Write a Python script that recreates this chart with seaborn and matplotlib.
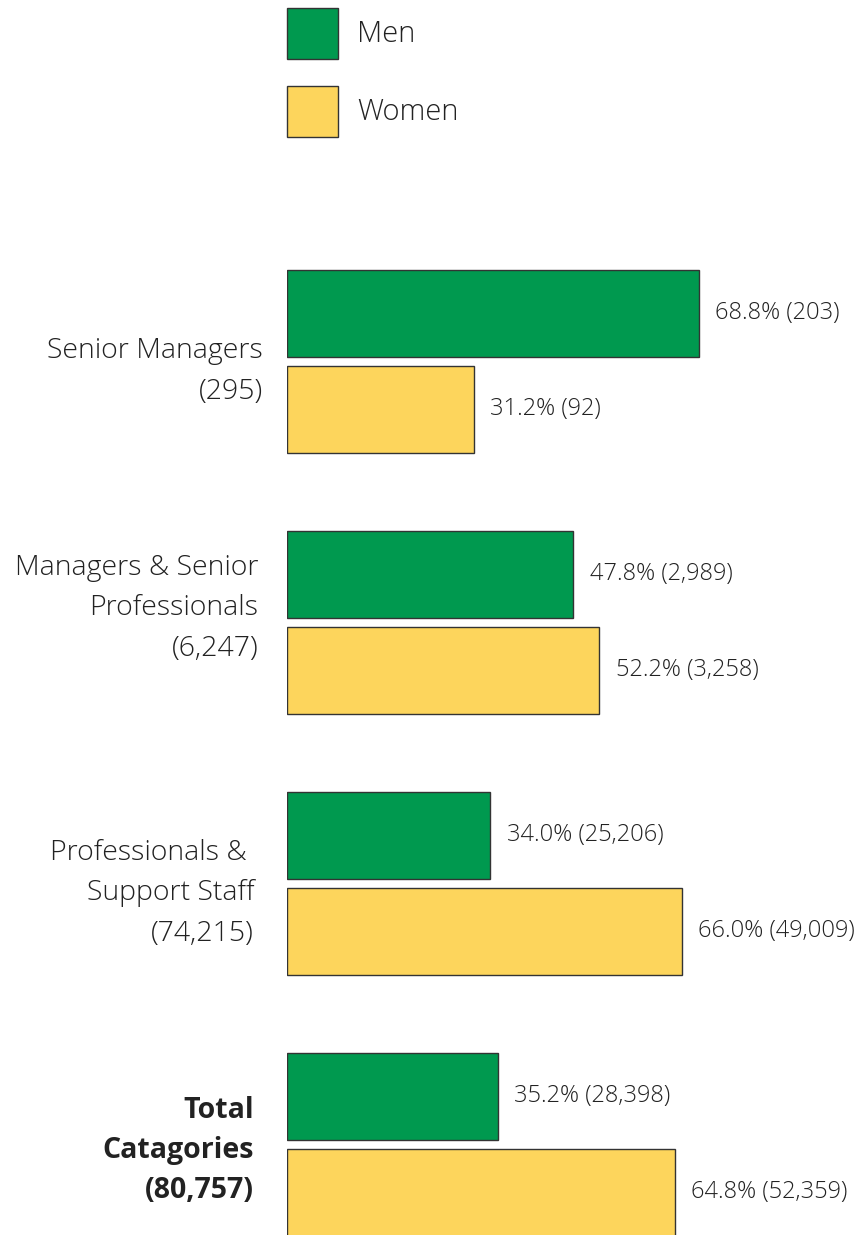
import matplotlib
matplotlib.use("Agg")
import matplotlib.pyplot as plt
from matplotlib.patches import Patch
from matplotlib.transforms import ScaledTranslation
import seaborn as sns
import pandas as pd

# data
categories = ["Senior Managers\n(295)",
              "Managers & Senior\nProfessionals\n(6,247)",
              "Professionals & \nSupport Staff\n(74,215)",
              "Total\nCatagories\n(80,757)"]
men_pct = [68.8, 47.8, 34.0, 35.2]
women_pct = [31.2, 52.2, 66.0, 64.8]
men_n = [203, 2989, 25206, 28398]
women_n = [92, 3258, 49009, 52359]
series = ["Men", "Women"]
colors = {"Men": "#00994F", "Women": "#FDD55C"}

df = pd.concat([
    pd.DataFrame({"group": categories, "pct": men_pct, "sex": "Men"}),
    pd.DataFrame({"group": categories, "pct": women_pct, "sex": "Women"}),
])

sns.set_style("white")
plt.rcParams['font.family'] = ['Open Sans', 'DejaVu Sans']

fig = plt.figure(figsize=(8.6, 12.35), dpi=100)
ax = fig.add_axes([287 / 860, 0, 1 - 287 / 860, 1])

sns.barplot(data=df, y="group", x="pct", hue="sex", order=categories,
            hue_order=series, palette=colors, saturation=1, orient="h",
            width=0.736, gap=0.094, edgecolor="#333333", linewidth=1.0,
            legend=False, ax=ax)

ax.set_xlim(0, 95.8)
ax.set_ylim(3.347, -1.385)
ax.set_xlabel("")
ax.set_ylabel("")
ax.set_xticks([])
for s in ax.spines.values():
    s.set_visible(False)

ax.tick_params(axis="y", length=0, pad=20)
ax.set_yticks(range(len(categories)), categories, fontsize=20.5,
              linespacing=1.6, color="#222222", fontweight="light")
labels = ax.get_yticklabels()
labels[3].set_fontweight("bold")
labels[3].set_linespacing(1.5)
# small nudges so the labels sit where they do in the original
nudges = [(0.04, 0), (-0.01, 0.24), (-0.05, 0), (-0.05, 0.03)]
for lab, (dx, dy) in zip(labels, nudges):
    lab.set_transform(lab.get_transform()
                      + ScaledTranslation(dx, dy, fig.dpi_scale_trans))

# value labels next to the bars
ax.bar_label(ax.containers[0],
             labels=[f"{p:.1f}% ({n:,})" for p, n in zip(men_pct, men_n)],
             padding=12, fontsize=17, color="#222222", fontweight="light")
ax.bar_label(ax.containers[1],
             labels=[f"{p:.1f}% ({n:,})" for p, n in zip(women_pct, women_n)],
             padding=12, fontsize=17, color="#222222", fontweight="light")

handles = [Patch(facecolor=colors[s], edgecolor="#333333", linewidth=1.0) for s in series]
fig.legend(handles, series, loc="upper left",
           bbox_to_anchor=(287 / 860, 1 - 8 / 1235),
           frameon=False, prop={"size": 21, "weight": "light"},
           handlelength=1.75, handleheight=2.3,
           handletextpad=0.65, labelspacing=0.93, borderpad=0, borderaxespad=0,
           labelcolor="#222222")

fig.savefig("out.png", dpi=100)
